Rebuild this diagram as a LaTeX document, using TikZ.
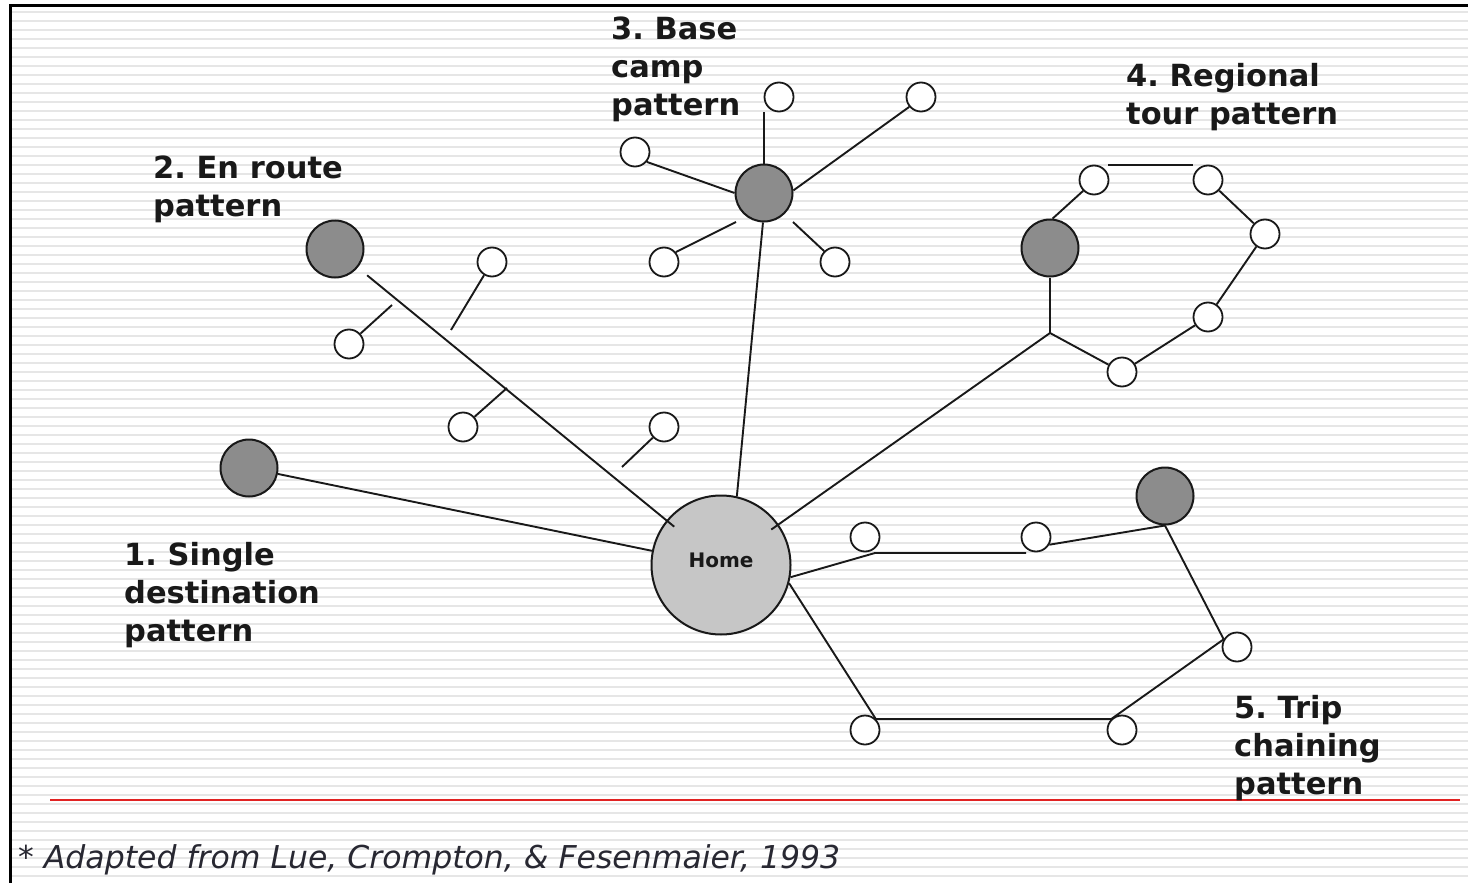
\documentclass[tikz,border=0pt]{standalone}
\usepackage{fontspec}
\setmainfont{DejaVu Sans}
\usetikzlibrary{calc}
\definecolor{darknode}{RGB}{140,140,140}
\definecolor{homefill}{RGB}{198,198,198}
\definecolor{stripecol}{RGB}{230,230,230}
\definecolor{redline}{RGB}{225,35,35}
\definecolor{ink}{RGB}{25,25,25}
\definecolor{noteink}{RGB}{40,40,50}
\frenchspacing
\begin{document}
\begin{tikzpicture}[x=1pt,y=-1pt,
  conn/.style={draw=ink,line width=1.9pt},
  dest/.style={circle,draw=ink,line width=2pt,fill=darknode,minimum size=57pt,inner sep=0pt},
  stopnode/.style={circle,draw=ink,line width=1.8pt,fill=white,minimum size=29pt,inner sep=0pt},
  homenode/.style={circle,draw=ink,line width=2pt,fill=homefill,minimum size=139pt,inner sep=0pt,
    font=\bfseries\fontsize{20}{24}\selectfont,text=ink,text depth=10pt},
  lab/.style={anchor=north west,align=left,inner sep=0pt,
    font=\bfseries\fontsize{30.5}{38}\selectfont,text=ink},
  stripe/.style={draw=stripecol,line width=1.3pt}
]
% background and frame
\fill[white] (0,0) rectangle (1468,883);
\useasboundingbox (0,0) rectangle (1468,883);
\foreach \yy in {12,21,...,880} \draw[stripe] (11,\yy) -- (1468,\yy);
\draw[line width=3pt,black] (10,883) -- (10,6) -- (1468,6);
\draw[redline,line width=2pt] (50,800) -- (1460,800);

% labels
\node[lab] (l3) at (611,17) {3. Base\\camp\\pattern};
\node[lab] (l2) at (153,156) {2. En route\\pattern};
\node[lab] (l4) at (1126,63) {4. Regional\\tour pattern};
\node[lab] (l1) at (124,542) {1. Single\\destination\\pattern};
\node[lab] (l5) at (1234,695) {5. Trip\\chaining\\pattern};
\node[anchor=base west,inner sep=0pt,text=noteink,font=\itshape\fontsize{31.5}{36}\selectfont] (note) at (18,868)
  {* Adapted from Lue, Crompton, \& Fesenmaier, 1993};

% main nodes
\node[homenode] (home) at (721,565) {Home};
\node[dest] (n1) at (249,468) {};
\node[dest] (n2) at (335,249) {};
\node[dest] (n3) at (764,193) {};
\node[dest] (n4) at (1050,248) {};
\node[dest] (n5) at (1165,496) {};
% en route stops
\node[stopnode] (s1) at (349,344) {};
\node[stopnode] (s2) at (492,262) {};
\node[stopnode] (s3) at (463,427) {};
\node[stopnode] (s4) at (664,427) {};
% base camp stops
\node[stopnode] (t1) at (779,97) {};
\node[stopnode] (t2) at (921,97) {};
\node[stopnode] (t3) at (635,152) {};
\node[stopnode] (t4) at (664,262) {};
\node[stopnode] (t5) at (835,262) {};
% regional tour stops
\node[stopnode] (r1) at (1094,180) {};
\node[stopnode] (r2) at (1208,180) {};
\node[stopnode] (r3) at (1265,234) {};
\node[stopnode] (r4) at (1208,317) {};
\node[stopnode] (r5) at (1122,372) {};
% trip chaining stops
\node[stopnode] (q1) at (865,537) {};
\node[stopnode] (q2) at (1036,537) {};
\node[stopnode] (p1) at (1237,647) {};
\node[stopnode] (p2) at (1122,730) {};
\node[stopnode] (p3) at (865,730) {};

% free ends
\coordinate (c1) at (392,305);
\coordinate (c2) at (451,330);
\coordinate (c3) at (507,388);
\coordinate (c4) at (622,467);
\coordinate (g4) at (736,222);
\coordinate (g5) at (793,222);
\coordinate (j4) at (1050,333);
\coordinate (q1c) at (875,553);
\coordinate (q2c) at (1026,553);

% 1. single destination
\draw[conn] (n1) -- (home);
% 2. en route
\draw[conn,shorten <=12pt,shorten >=-10pt] (n2) -- (home);
\draw[conn] (s1) -- (c1);
\draw[conn] (s2) -- (c2);
\draw[conn] (s3) -- (c3);
\draw[conn] (s4) -- (c4);
% 3. base camp
\draw[conn] (n3.268) -- (home.77);
\draw[conn] (n3.north) -- (n3.north |- t1.south);
\draw[conn] (n3.5) -- (t2.220);
\draw[conn] (t3.320) -- (n3.west);
\draw[conn] (t4.40) -- (g4);
\draw[conn] (t5.135) -- (g5);
% 4. regional tour
\draw[conn] (n4.85) -- (r1.225);
\draw[conn,shorten <=14pt,shorten >=15pt] (r1.north) -- (r2.north);
\draw[conn] (r2) -- (r3);
\draw[conn] (r3) -- (r4);
\draw[conn] (r4) -- (r5);
\draw[conn] (r5) -- (j4);
\draw[conn] (j4) -- (n4);
\draw[conn,shorten >=-9pt] (j4) -- (home);
% 5. trip chaining
\draw[conn] (home.-10) -- (q1c) -- (q2c);
\draw[conn] (q2.-30) -- (n5.south);
\draw[conn] (n5.south) -- (p1.150);
\draw[conn] (p1.150) -- (p2.135) -- (p3.45) -- (home.-15);
\end{tikzpicture}
\end{document}
